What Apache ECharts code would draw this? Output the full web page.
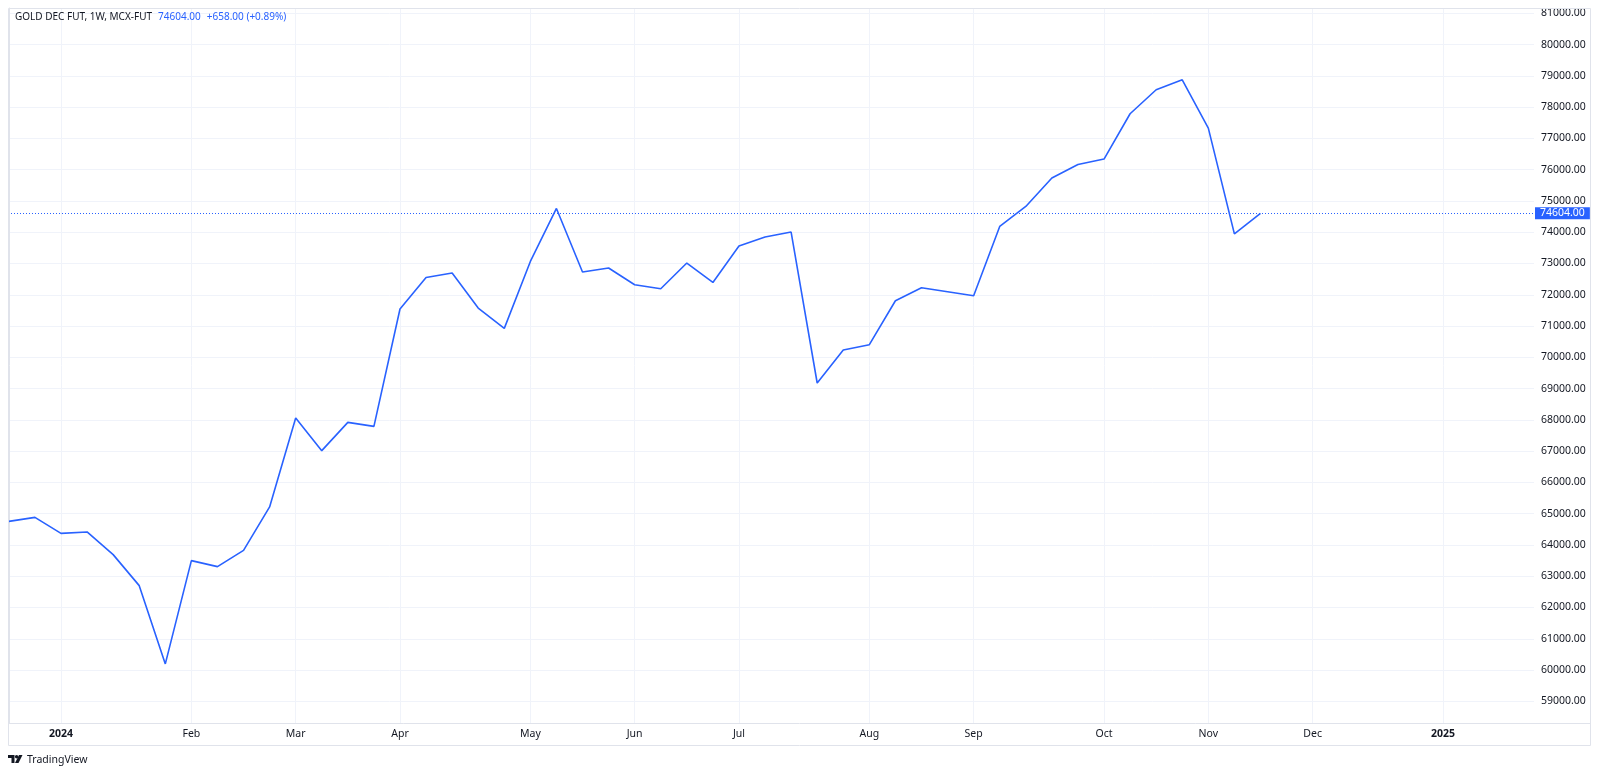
<!DOCTYPE html>
<html><head><meta charset="utf-8">
<script src="https://cdn.jsdelivr.net/npm/echarts@6/dist/echarts.min.js"></script>
<style>html,body{margin:0;padding:0;background:#fff;}#c{width:1600px;height:775px;}</style>
</head><body><div id="c"></div>
<script>
const symbolName = 'GOLD DEC FUT, 1W, MCX-FUT';
const weeks = [
 '2023-12-18','2023-12-25',
 '2024-01-01','2024-01-08','2024-01-15','2024-01-22','2024-01-29',
 '2024-02-05','2024-02-12','2024-02-19','2024-02-26',
 '2024-03-04','2024-03-11','2024-03-18','2024-03-25',
 '2024-04-01','2024-04-08','2024-04-15','2024-04-22','2024-04-29',
 '2024-05-06','2024-05-13','2024-05-20','2024-05-27',
 '2024-06-03','2024-06-10','2024-06-17','2024-06-24',
 '2024-07-01','2024-07-08','2024-07-15','2024-07-22','2024-07-29',
 '2024-08-05','2024-08-12','2024-08-19','2024-08-26',
 '2024-09-02','2024-09-09','2024-09-16','2024-09-23','2024-09-30',
 '2024-10-07','2024-10-14','2024-10-21','2024-10-28',
 '2024-11-04','2024-11-11','2024-11-18'
];
const closes = [
 64755, 64882,
 64371, 64416, 63690, 62699, 60196,
 63498, 63306, 63827, 65215,
 68060, 67015, 67920, 67792,
 71545, 72555, 72696, 71577, 70925,
 73067, 74761, 72728, 72856,
 72322, 72194, 73015, 72395,
 73559, 73847, 74006, 69179, 70234,
 70404, 71810, 72226, 72098,
 71970, 74186, 74825, 75733, 76168,
 76340, 77789, 78556, 78875,
 77331, 73946, 74604
];
const tickDates = ['2024-01-01','2024-02-05','2024-03-04','2024-04-01','2024-05-06','2024-06-03','2024-07-01','2024-08-05','2024-09-02','2024-10-07','2024-11-04','2024-12-02','2025-01-06'];
const tickLabels = ['2024','Feb','Mar','Apr','May','Jun','Jul','Aug','Sep','Oct','Nov','Dec','2025'];
const yTicks = [59000,60000,61000,62000,63000,64000,65000,66000,67000,68000,69000,70000,71000,72000,73000,74000,75000,76000,77000,78000,79000,80000,81000];

// x axis = bar index (TradingView spaces weekly bars evenly)
const ts = s => { const p = s.split('-').map(Number); return Date.UTC(p[0], p[1]-1, p[2]); };
const WEEK = 7 * 864e5;
const t0 = ts(weeks[0]);
const barIndex = s => Math.round((ts(s) - t0) / WEEK);
const xTicks = tickDates.map(barIndex);
const labelMap = {};
xTicks.forEach((b, i) => { labelMap[b] = tickLabels[i]; });
const last = closes[closes.length - 1], prev = closes[closes.length - 2];
const chg = last - prev, pct = chg / prev * 100;
const sgn = v => (v >= 0 ? '+' : '') + v.toFixed(2);

const FONT = 'Noto Sans';
const TXT = '#131722';
const BLUE = '#2962ff';
const GRIDC = '#f0f3fa';
const BORDER = '#e0e3eb';

const chart = echarts.init(document.getElementById('c'));
chart.setOption({
  animation: false,
  backgroundColor: '#ffffff',
  textStyle: { fontFamily: FONT },
  title: {
    left: 15, top: 12, padding: 0,
    text: '{a|' + symbolName + '}{b|' + last.toFixed(2) + '}{b|' + sgn(chg) + ' (' + sgn(pct) + '%)}',
    textStyle: {
      fontWeight: 'normal',
      rich: {
        a: { fontFamily: FONT, fontSize: 10, fontWeight: 'normal', color: TXT },
        b: { fontFamily: FONT, fontSize: 10, fontWeight: 'normal', color: BLUE, padding: [0, 0, 0, 6] }
      }
    }
  },
  grid: { left: 8, top: 8, width: 1526, height: 715, containLabel: false },
  xAxis: {
    type: 'value', min: -0.033, max: 58.49, scale: true,
    axisLine: { show: false }, axisTick: { show: false, customValues: xTicks },
    splitLine: { show: true, lineStyle: { color: GRIDC, width: 1 } },
    axisLabel: {
      customValues: xTicks,
      margin: 6, fontSize: 10.5, color: TXT, fontFamily: FONT,
      formatter: v => { const l = labelMap[Math.round(v)]; if (l === undefined) return ''; return /^\d{4}$/.test(l) ? '{y|' + l + '}' : l; },
      rich: { y: { fontWeight: 'bold', fontSize: 10.5, color: TXT, fontFamily: FONT } }
    }
  },
  yAxis: {
    type: 'value', position: 'right', min: 58306, max: 81171, scale: true,
    axisLine: { show: true, lineStyle: { color: BORDER } },
    axisTick: { show: false, customValues: yTicks },
    splitLine: { show: true, lineStyle: { color: GRIDC, width: 1 } },
    axisLabel: { customValues: yTicks, margin: 7, fontSize: 10.5, color: TXT, fontFamily: FONT, formatter: v => v.toFixed(2) }
  },
  series: [{
    type: 'line',
    data: weeks.map((w, i) => [barIndex(w), closes[i]]),
    showSymbol: false, symbol: 'none',
    lineStyle: { color: BLUE, width: 1.6 },
    markLine: {
      silent: true, symbol: ['none', 'none'],
      lineStyle: { color: BLUE, width: 1, type: [1, 2] },
      label: {
        show: true, position: 'end', distance: 1,
        formatter: p => Number(p.value).toFixed(2),
        backgroundColor: BLUE, color: '#fff', fontSize: 10.5, fontFamily: FONT,
        padding: [1, 5, 0, 5]
      },
      data: [{ yAxis: last }]
    }
  }],
  graphic: [
    { type: 'rect', silent: true, shape: { x: 8.5, y: 8.5, width: 1582, height: 737 }, style: { fill: 'none', stroke: BORDER, lineWidth: 1 }, z: 10 },
    { type: 'line', silent: true, shape: { x1: 8, y1: 723.5, x2: 1591, y2: 723.5 }, style: { stroke: BORDER, lineWidth: 1 }, z: 10 },
    { type: 'group', left: 8, top: 755, children: [
      { type: 'polygon', shape: { points: [[0,0],[6.5,0],[6.5,8],[3.5,8],[3.5,3],[0,3]] }, style: { fill: TXT } },
      { type: 'circle', shape: { cx: 8.6, cy: 1.7, r: 1.7 }, style: { fill: TXT } },
      { type: 'polygon', shape: { points: [[11,0],[14.5,0],[10.5,8],[7,8]] }, style: { fill: TXT } }
    ]},
    { type: 'text', left: 27, top: 755, style: { text: 'TradingView', font: '10.5px "Noto Sans"', fill: TXT } }
  ]
});
</script>
</body></html>
